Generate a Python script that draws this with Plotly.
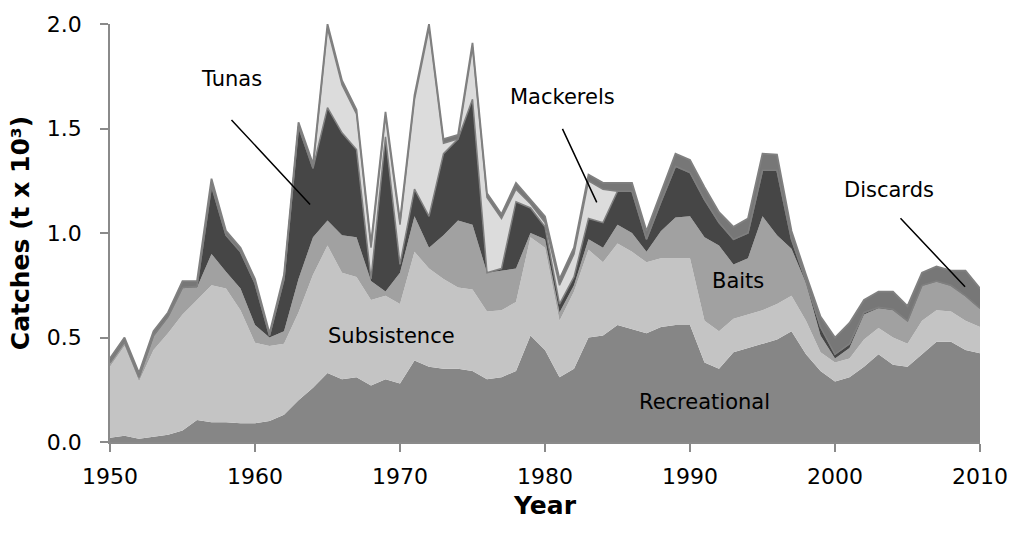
import plotly.graph_objects as go

years = list(range(1950, 2011))

recreational = [0.02, 0.03, 0.015, 0.025, 0.035, 0.055, 0.105, 0.095, 0.095, 0.09,
                0.09, 0.10, 0.13, 0.20, 0.26, 0.33, 0.30, 0.31, 0.27, 0.30,
                0.28, 0.39, 0.36, 0.35, 0.35, 0.34, 0.30, 0.31, 0.34, 0.51,
                0.44, 0.31, 0.35, 0.50, 0.51, 0.56, 0.54, 0.52, 0.55, 0.56,
                0.56, 0.38, 0.35, 0.43, 0.45, 0.47, 0.49, 0.53, 0.42, 0.34,
                0.29, 0.31, 0.36, 0.42, 0.37, 0.36, 0.42, 0.48, 0.48, 0.44,
                0.425]
subsistence = [0.34, 0.43, 0.275, 0.415, 0.485, 0.555, 0.575, 0.655, 0.64, 0.54,
               0.385, 0.36, 0.34, 0.42, 0.54, 0.61, 0.51, 0.48, 0.41, 0.40,
               0.38, 0.52, 0.47, 0.43, 0.39, 0.39, 0.325, 0.32, 0.33, 0.47,
               0.49, 0.27, 0.37, 0.42, 0.35, 0.39, 0.37, 0.34, 0.33, 0.32,
               0.32, 0.20, 0.18, 0.16, 0.16, 0.16, 0.17, 0.17, 0.16, 0.09,
               0.09, 0.09, 0.13, 0.125, 0.13, 0.11, 0.16, 0.15, 0.145, 0.14,
               0.125]
baits = [0.02, 0.02, 0.02, 0.07, 0.08, 0.13, 0.06, 0.15, 0.08, 0.105,
         0.085, 0.04, 0.06, 0.16, 0.18, 0.12, 0.18, 0.19, 0.09, 0.02,
         0.15, 0.17, 0.10, 0.21, 0.32, 0.31, 0.185, 0.19, 0.16, 0.02,
         0.04, 0.04, 0.03, 0.05, 0.07, 0.09, 0.09, 0.05, 0.13, 0.195,
         0.20, 0.40, 0.41, 0.26, 0.27, 0.45, 0.33, 0.225, 0.18, 0.08,
         0.02, 0.05, 0.12, 0.095, 0.13, 0.11, 0.17, 0.14, 0.125, 0.12,
         0.09]
tunas = [0, 0, 0, 0, 0, 0, 0.005, 0.325, 0.175, 0.175,
         0.20, 0.01, 0.25, 0.73, 0.33, 0.54, 0.49, 0.42, 0.01, 0.74,
         0.04, 0.13, 0.15, 0.39, 0.39, 0.60, 0, 0.01, 0.32, 0.12,
         0.06, 0.04, 0.04, 0.10, 0.12, 0.16, 0.20, 0.06, 0.14, 0.245,
         0.21, 0.18, 0.11, 0.12, 0.12, 0.22, 0.31, 0.045, 0.01, 0.04,
         0.02, 0.02, 0.01, 0.005, 0.005, 0, 0, 0, 0, 0,
         0]
mackerels = [0, 0, 0, 0, 0, 0, 0, 0.005, 0, 0,
             0, 0, 0, 0, 0, 0.38, 0.23, 0.17, 0.15, 0.10,
             0.19, 0.43, 0.90, 0.05, 0, 0.25, 0.36, 0.24, 0.06, 0.02,
             0.02, 0.09, 0.11, 0.18, 0.16, 0, 0, 0, 0, 0,
             0, 0, 0, 0, 0, 0, 0, 0, 0, 0,
             0, 0, 0, 0, 0, 0, 0, 0, 0, 0,
             0]
discards = [0.02, 0.02, 0.02, 0.02, 0.02, 0.03, 0.025, 0.03, 0.02, 0.02,
            0.02, 0.01, 0.02, 0.02, 0.02, 0.02, 0.02, 0.02, 0.02, 0.02,
            0.02, 0.02, 0.02, 0.02, 0.02, 0.02, 0.02, 0.02, 0.03, 0.02,
            0.03, 0.03, 0.03, 0.03, 0.03, 0.04, 0.04, 0.04, 0.05, 0.06,
            0.06, 0.06, 0.05, 0.06, 0.07, 0.08, 0.075, 0.04, 0.03, 0.05,
            0.08, 0.10, 0.06, 0.075, 0.085, 0.07, 0.06, 0.07, 0.07, 0.12,
            0.095]

y_ticks = [0.0, 0.5, 1.0, 1.5, 2.0]
x_ticks = [1950, 1960, 1970, 1980, 1990, 2000, 2010]

series = [
    ("Recreational", recreational, "#868686", 0, None),
    ("Subsistence", subsistence, "#c4c4c4", 0, None),
    ("Baits", baits, "#a1a1a1", 0, None),
    ("Tunas", tunas, "#464646", 1.5, "#7f7f7f"),
    ("Mackerels", mackerels, "#dcdcdc", 1.5, "#7f7f7f"),
    ("Discards", discards, "#777777", 1.8, "#808080"),
]

fig = go.Figure()
for name, vals, col, lw, lc in series:
    fig.add_trace(go.Scatter(
        x=years, y=vals, name=name, mode="lines", stackgroup="one",
        fillcolor=col,
        line=dict(width=lw, color=lc if lc else col),
        hoverinfo="x+y+name",
    ))

axis_col = "#8a8a8a"
fig.update_layout(
    width=1020, height=539,
    margin=dict(l=110, r=31, t=20, b=97),
    paper_bgcolor="white", plot_bgcolor="white",
    showlegend=False,
    font=dict(family="DejaVu Sans", size=22, color="black"),
    xaxis=dict(range=[1950, 2010], tickvals=x_ticks, showgrid=False,
               zeroline=False, showline=True, linecolor=axis_col, linewidth=1.5,
               ticks="outside", ticklen=8, tickcolor=axis_col, tickwidth=1.5,
               tickfont=dict(size=22), ticklabelstandoff=6,
               ticklabeloverflow="allow"),
    yaxis=dict(range=[0, 2.0005], tickvals=y_ticks, tickformat=".1f", showgrid=False,
               zeroline=False, showline=True, linecolor=axis_col, linewidth=1.5,
               ticks="outside", ticklen=8, tickcolor=axis_col, tickwidth=1.5,
               tickfont=dict(size=22), ticklabelstandoff=14,
               ticklabeloverflow="allow",
               title=dict(text="<b>Catches (t x 10³)</b>", font=dict(size=25), standoff=10)),
)

fig.add_annotation(xref="paper", yref="paper", x=0.5, y=-0.153, text="<b>Year</b>",
                   showarrow=False, font=dict(family="DejaVu Sans", size=25, color="black"),
                   xanchor="center", yanchor="middle")

ann_font = dict(family="DejaVu Sans", size=21, color="black")
labels = [
    ("Tunas", 1958.4, 1.735),
    ("Mackerels", 1981.2, 1.649),
    ("Subsistence", 1969.4, 0.506),
    ("Baits", 1993.3, 0.772),
    ("Recreational", 1991.0, 0.193),
    ("Discards", 2003.7, 1.206),
]
for txt, xv, yv in labels:
    fig.add_annotation(x=xv, y=yv, text=txt, showarrow=False, font=ann_font,
                       xanchor="center", yanchor="middle")

pointers = [
    (1963.8, 1.137, -80, -86),
    (1983.57, 1.147, -35, -75),
    (2008.97, 0.743, -66, -70),
]
for xv, yv, ax, ay in pointers:
    fig.add_annotation(x=xv, y=yv, ax=ax, ay=ay, text="", showarrow=True,
                       arrowhead=0, arrowwidth=1.5, arrowcolor="black",
                       standoff=0, startstandoff=0)

fig.write_html(
    "out.html",
    config={"displayModeBar": False},
    post_script="document.body.style.margin='0';document.body.style.padding='0';",
)
